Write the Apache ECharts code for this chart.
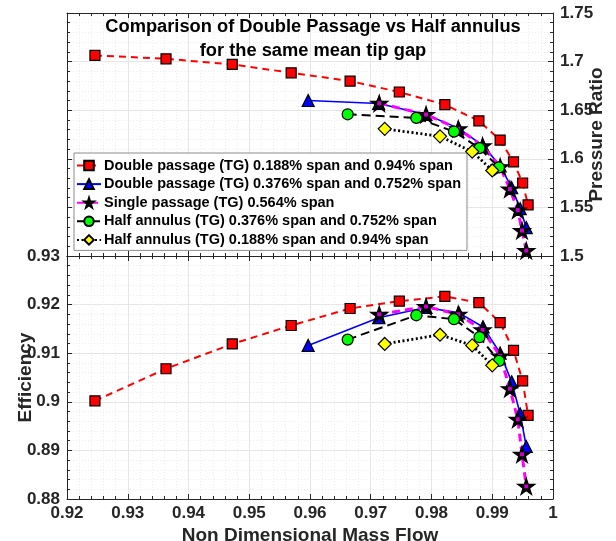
<!DOCTYPE html>
<html>
<head>
<meta charset="utf-8">
<script src="https://cdn.jsdelivr.net/npm/echarts@6/dist/echarts.min.js"></script>
<style>
html,body{margin:0;padding:0;background:#fff;}
#chart{width:616px;height:541px;}
</style>
</head>
<body>
<div id="chart"></div>
<script>
// ---- data ----
var xTicks = [0.92, 0.93, 0.94, 0.95, 0.96, 0.97, 0.98, 0.99, 1];
var prTicks = [1.5, 1.55, 1.6, 1.65, 1.7, 1.75];
var effTicks = [0.88, 0.89, 0.9, 0.91, 0.92, 0.93];

var names = [
  'Double passage (TG) 0.188% span and 0.94% span',
  'Double passage (TG) 0.376% span and 0.752% span',
  'Single passage (TG) 0.564% span',
  'Half annulus (TG) 0.376% span and 0.752% span',
  'Half annulus (TG) 0.188% span and 0.94% span'
];

var massDP188 = [0.9246, 0.9363, 0.9472, 0.9569, 0.9666, 0.9747, 0.9822, 0.9878, 0.9913, 0.9935, 0.9950, 0.9959];
var prDP188   = [1.7064, 1.7029, 1.6971, 1.6885, 1.6800, 1.6687, 1.6557, 1.6390, 1.6192, 1.5969, 1.5751, 1.5525];
var effDP188  = [0.9002, 0.9068, 0.9119, 0.9157, 0.9192, 0.9207, 0.9217, 0.9204, 0.9163, 0.9106, 0.9043, 0.8972];

var massDP376 = [0.9597, 0.9713, 0.9791, 0.9845, 0.9885, 0.9913, 0.9932, 0.9946, 0.9956];
var prDP376   = [1.6600, 1.6569, 1.6456, 1.6313, 1.6133, 1.5928, 1.5703, 1.5487, 1.5292];
var effDP376  = [0.9116, 0.9173, 0.9194, 0.9183, 0.9154, 0.9100, 0.9041, 0.8975, 0.8908];

var massSP564 = [0.9714, 0.9791, 0.9844, 0.9884, 0.9913, 0.9929, 0.9942, 0.9949, 0.9956];
var prSP564   = [1.6571, 1.6456, 1.6308, 1.6133, 1.5918, 1.5689, 1.5472, 1.5262, 1.5056];
var effSP564  = [0.9180, 0.9196, 0.9180, 0.9148, 0.9094, 0.9027, 0.8964, 0.8892, 0.8826];

var massHA376 = [0.9662, 0.9775, 0.9837, 0.9879, 0.9911];
var prHA376   = [1.6458, 1.6421, 1.6280, 1.6110, 1.5911];
var effHA376  = [0.9128, 0.9178, 0.9170, 0.9133, 0.9084];

var massHA188 = [0.9723, 0.9814, 0.9867, 0.9900];
var prHA188   = [1.6308, 1.6231, 1.6074, 1.5880];
var effHA188  = [0.9119, 0.9138, 0.9116, 0.9075];

// ---- helpers ----
function pairs(xs, ys) { return xs.map(function (x, i) { return [x, ys[i]]; }); }
var FONT = '"Liberation Sans", Arial, Helvetica, sans-serif';
var AX = '#262626';
var STAR = 'path://M50 0L61.23 34.55L97.55 34.55L68.17 55.9L79.39 90.45L50 69.1L20.61 90.45L31.83 55.9L2.45 34.55L38.77 34.55Z';

function pick(ticks) {
  return function (v) { var t = ticks.filter(function (k) { return Math.abs(k - v) < 1e-9; }); return t.length ? String(t[0]) : ''; };
}
function axisDef(kind, grid, pos, main, labels, min, max, interval, ticks) {
  return {
    type: 'value', gridIndex: grid, position: pos, min: min, max: max, interval: interval,
    nameMoveOverlap: false,
    axisLine: { show: true, onZero: false, lineStyle: { color: AX, width: 1 } },
    axisTick: { show: true, inside: true, length: 5, lineStyle: { color: AX } },
    minorTick: { show: true, splitNumber: 5, length: 3, lineStyle: { color: AX } },
    axisLabel: labels ? { show: true, color: AX, fontFamily: FONT, fontWeight: 'bold', fontSize: 17,
      margin: kind === 'x' ? 6 : 7, formatter: pick(ticks) } : { show: false },
    splitLine: main ? { show: true, lineStyle: { color: '#e6e6e6', width: 1 } } : { show: false },
    minorSplitLine: main ? { show: true, lineStyle: { color: '#ededed', width: 1, type: [1, 2] } } : { show: false }
  };
}

var styles = [
  { line: { color: '#ff0000', width: 2, type: [7, 5] }, symbol: 'rect', size: 10, fill: '#ff0000' },
  { line: { color: '#0000ff', width: 1.6, type: 'solid' }, symbol: 'triangle', size: 12, fill: '#0000ff' },
  { line: { color: '#ff00ff', width: 3, type: [8, 5] }, symbol: STAR, size: 17, fill: '#000000' },
  { line: { color: '#000000', width: 2, type: [9, 5] }, symbol: 'circle', size: 11, fill: '#00ff00' },
  { line: { color: '#000000', width: 2.8, type: [2, 2.5] }, symbol: 'diamond', size: 13, fill: '#ffff00' }
];
var sets = [
  [massDP188, prDP188, effDP188],
  [massDP376, prDP376, effDP376],
  [massSP564, prSP564, effSP564],
  [massHA376, prHA376, effHA376],
  [massHA188, prHA188, effHA188]
];

var series = [];
sets.forEach(function (s, i) {
  var st = styles[i];
  [[0, 0, s[1]], [2, 2, s[2]]].forEach(function (g) {
    series.push({
      name: names[i], type: 'line', xAxisIndex: g[0], yAxisIndex: g[1],
      data: pairs(s[0], g[2]), symbol: st.symbol, symbolSize: st.size, symbolKeepAspect: true,
      showAllSymbol: true, clip: false,
      lineStyle: st.line,
      itemStyle: { color: st.fill, borderColor: '#000', borderWidth: 1.2 },
      emphasis: { disabled: true }, z: 2 + i
    });
    if (i === 2) {
      series.push({
        name: 'star-centre', type: 'scatter', xAxisIndex: g[0], yAxisIndex: g[1],
        data: pairs(s[0], g[2]), symbol: 'rect', symbolSize: 4,
        itemStyle: { color: '#ff00ff' }, emphasis: { disabled: true }, z: 2 + i, silent: true
      });
    }
  });
});

var chart = echarts.init(document.getElementById('chart'), null, { renderer: 'canvas' });
chart.setOption({
  animation: false,
  backgroundColor: '#fff',
  title: {
    text: 'Comparison of Double Passage vs Half annulus\nfor the same mean tip gap',
    left: 308, top: 10, textAlign: 'center',
    textStyle: { fontFamily: FONT, fontWeight: 'bold', fontSize: 18.3, color: '#000', lineHeight: 24 }
  },
  legend: {
    data: names, orient: 'vertical', left: 74, top: 153,
    backgroundColor: '#fff', borderColor: '#8c8c8c', borderWidth: 1,
    padding: [5, 6, 3, 2], itemGap: 3.6, itemWidth: 24, itemHeight: 12,
    textStyle: { fontFamily: FONT, fontWeight: 'bold', fontSize: 14.5, color: '#000', padding: [0, 0, 0, -2] },
    selectedMode: false
  },
  grid: [
    { left: 67, right: 63, top: 13, height: 243, containLabel: false, outerBoundsMode: 'none' },
    { left: 67, right: 63, top: 256, height: 243, containLabel: false, outerBoundsMode: 'none' }
  ],
  xAxis: [
    axisDef('x', 0, 'bottom', true, false, 0.92, 1, 0.01, xTicks),
    axisDef('x', 0, 'top', false, false, 0.92, 1, 0.01, xTicks),
    Object.assign(axisDef('x', 1, 'bottom', true, true, 0.92, 1, 0.01, xTicks), {
      name: 'Non Dimensional Mass Flow', nameLocation: 'middle', nameGap: 27,
      nameTextStyle: { fontFamily: FONT, fontWeight: 'bold', fontSize: 19, color: AX }
    }),
    axisDef('x', 1, 'top', false, false, 0.92, 1, 0.01, xTicks)
  ],
  yAxis: [
    Object.assign(axisDef('y', 0, 'right', true, true, 1.5, 1.75, 0.05, prTicks), {
      name: 'Pressure Ratio', nameLocation: 'middle', nameGap: 34, nameRotate: 90,
      nameTextStyle: { fontFamily: FONT, fontWeight: 'bold', fontSize: 19, color: AX }
    }),
    axisDef('y', 0, 'left', false, false, 1.5, 1.75, 0.05, prTicks),
    Object.assign(axisDef('y', 1, 'left', true, true, 0.88, 0.93, 0.01, effTicks), {
      name: 'Efficiency', nameLocation: 'middle', nameGap: 32, nameRotate: 90,
      nameTextStyle: { fontFamily: FONT, fontWeight: 'bold', fontSize: 19, color: AX }
    }),
    axisDef('y', 1, 'right', false, false, 0.88, 0.93, 0.01, effTicks)
  ],
  series: series
});
</script>
</body>
</html>
